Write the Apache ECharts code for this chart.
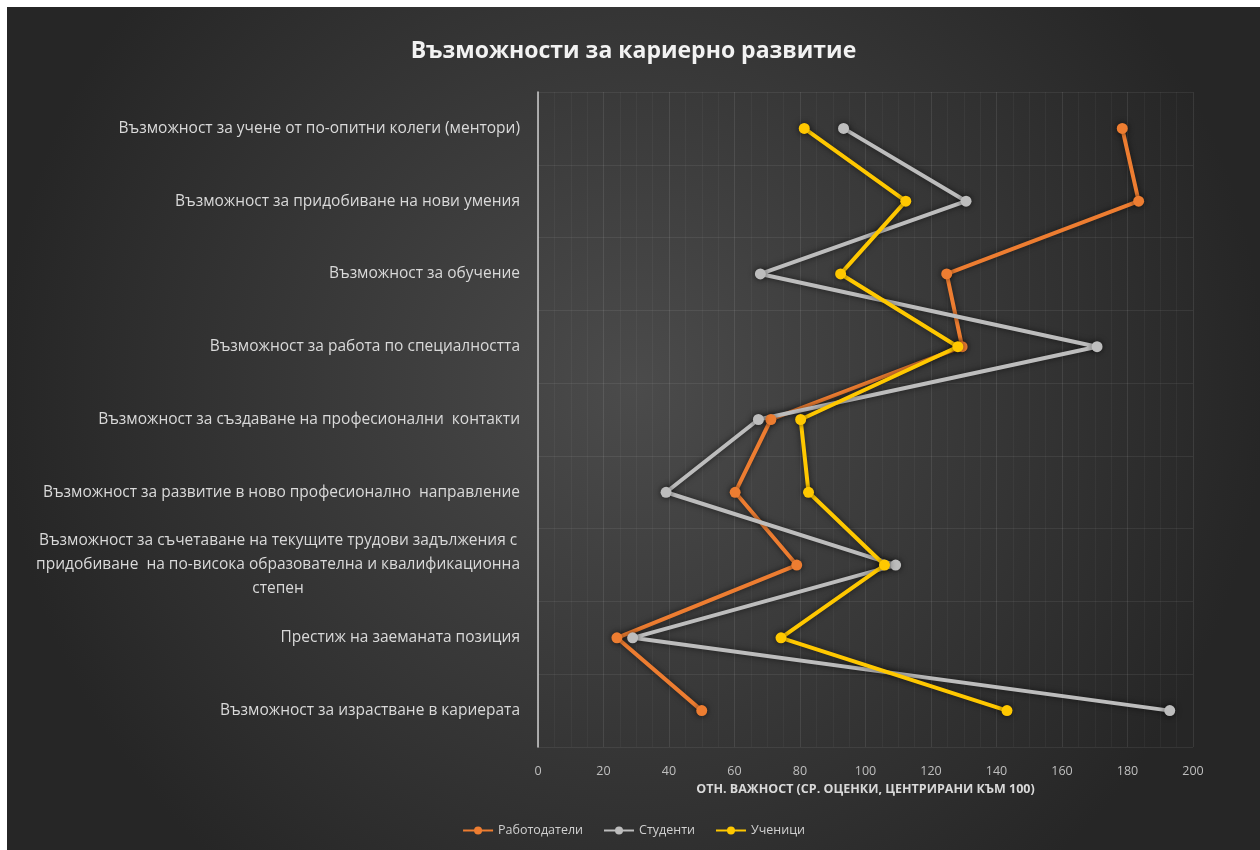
<!DOCTYPE html>
<html>
<head>
<meta charset="utf-8">
<script src="https://cdn.jsdelivr.net/npm/echarts@6/dist/echarts.min.js"></script>
<style>
html,body{margin:0;padding:0;background:#ffffff;width:1260px;height:850px;overflow:hidden;}
#chart{position:absolute;left:7px;top:7px;width:1253px;height:843px;}
</style>
</head>
<body>
<div id="chart"></div>
<script>
const categories = [
  'Възможност за учене от по-опитни колеги (ментори)',
  'Възможност за придобиване на нови умения',
  'Възможност за обучение',
  'Възможност за работа по специалността',
  'Възможност за създаване на професионални  контакти',
  'Възможност за развитие в ново професионално  направление',
  'Възможност за съчетаване на текущите трудови задължения с\nпридобиване  на по-висока образователна и квалификационна\nстепен',
  'Престиж на заеманата позиция',
  'Възможност за израстване в кариерата'
];
const seriesNames = ['Работодатели', 'Студенти', 'Ученици'];
const employers = [178.4, 183.4, 124.8, 129.5, 71.1, 60.2, 79.0, 24.1, 50.0];
const students  = [93.3, 130.7, 67.9, 170.7, 67.3, 39.1, 109.2, 28.9, 192.9];
const pupils    = [81.3, 112.3, 92.4, 128.2, 80.2, 82.6, 105.8, 74.2, 143.2];
const xTicks = [0, 20, 40, 60, 80, 100, 120, 140, 160, 180, 200];

const colors = ['#ED7D31', '#BDBDBD', '#FFC800'];
const chart = echarts.init(document.getElementById('chart'));

function mk(name, data, color) {
  return {
    name: name, type: 'line', data: data,
    symbol: 'circle', symbolSize: 11,
    lineStyle: { width: 4, color: color, shadowBlur: 6, shadowColor: 'rgba(0,0,0,0.6)' },
    itemStyle: { color: color, shadowBlur: 6, shadowColor: 'rgba(0,0,0,0.6)' },
    emphasis: { disabled: true }
  };
}

chart.setOption({
  animation: false,
  backgroundColor: {
    type: 'radial', x: 0.5, y: 0.45, r: 0.75,
    colorStops: [{ offset: 0, color: '#4b4b4b' }, { offset: 1, color: '#262626' }]
  },
  textStyle: { fontFamily: 'Open Sans' },
  title: {
    text: 'Възможности за кариерно развитие',
    left: 'center', top: 28,
    textStyle: { color: '#f2f2f2', fontSize: 23, fontWeight: 'bold', fontFamily: 'Open Sans' }
  },
  legend: {
    bottom: 8, left: 'center',
    itemWidth: 30, itemHeight: 10, itemGap: 20,
    textStyle: { color: '#d0d0d0', fontSize: 12.5 },
    data: seriesNames
  },
  grid: { left: 531, right: 67, top: 85, bottom: 103, containLabel: false },
  xAxis: {
    type: 'value', min: xTicks[0], max: xTicks[xTicks.length - 1], interval: 20,
    name: 'ОТН. ВАЖНОСТ (СР. ОЦЕНКИ, ЦЕНТРИРАНИ КЪМ 100)',
    nameLocation: 'middle', nameGap: 30,
    nameTextStyle: { color: '#d9d9d9', fontSize: 12.5, fontWeight: 'bold' },
    axisLine: { show: false },
    axisTick: { show: false },
    axisLabel: { color: '#bfbfbf', fontSize: 12.5, margin: 18 },
    splitLine: { show: true, lineStyle: { color: 'rgba(255,255,255,0.09)', width: 1 } },
    minorTick: { show: false, splitNumber: 4 },
    minorSplitLine: { show: true, lineStyle: { color: 'rgba(255,255,255,0.04)', width: 1 } }
  },
  yAxis: {
    type: 'category', inverse: true, data: categories,
    axisLine: { show: true, lineStyle: { color: '#cfcfcf', width: 1.5 } },
    axisTick: { show: false },
    splitLine: { show: true, interval: 0, lineStyle: { color: 'rgba(255,255,255,0.07)' } },
    axisLabel: {
      color: '#d9d9d9', fontSize: 15.5, margin: 18, lineHeight: 24,
      formatter: function (v) {
        if (v.indexOf('\n') >= 0) {
          return v.split('\n').map(function (l) { return '{c|' + l + '}'; }).join('\n');
        }
        return v;
      },
      rich: { c: { align: 'center', color: '#d9d9d9', fontSize: 15.5, lineHeight: 24 } }
    }
  },
  series: [
    mk(seriesNames[0], employers, colors[0]),
    mk(seriesNames[1], students, colors[1]),
    mk(seriesNames[2], pupils, colors[2])
  ]
});
</script>
</body>
</html>
